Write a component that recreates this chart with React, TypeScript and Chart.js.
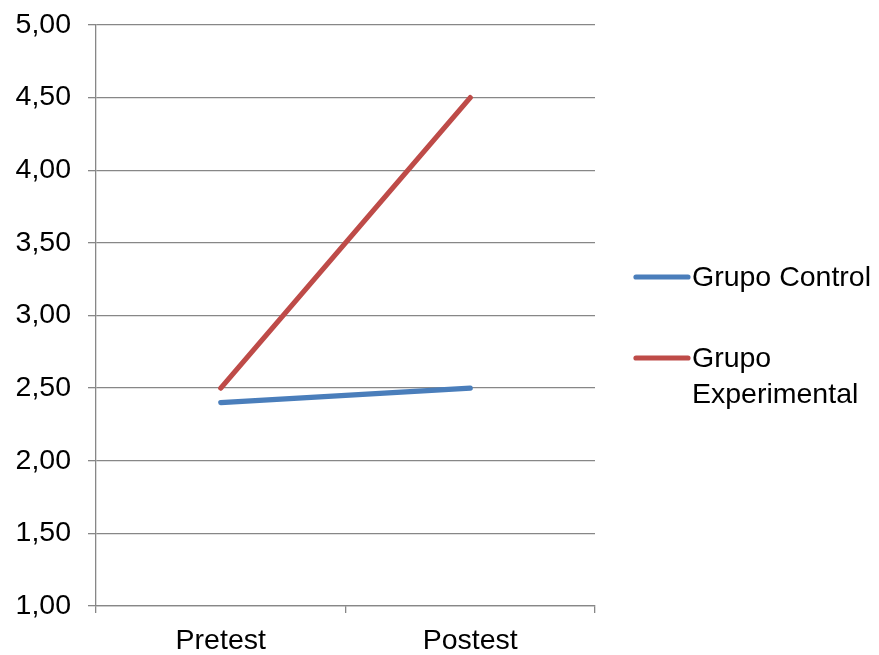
import React, { useEffect, useRef } from "react";
import { Chart, registerables } from "chart.js";

Chart.register(...registerables);

const categories = ["Pretest", "Postest"];
const controlValues = [2.4, 2.5];
const experimentalValues = [2.5, 4.5];
const seriesNames = ["Grupo Control", "Grupo Experimental"];
const legendLines = [["Grupo Control"], ["Grupo", "Experimental"]];
const yMin = 1;
const yMax = 5;
const yStep = 0.5;

const BLUE = "#4A7EBB";
const RED = "#BE4B48";
const GRID = "#878787";
const FONT = "'Liberation Sans', Arial, sans-serif";
const FS = 28.5;
const LW = 5.2;

const legendPlugin = {
  id: "sideLegend",
  afterDraw(chart: any) {
    const ctx = chart.ctx;
    const items = [
      { color: BLUE, y: 277, lines: legendLines[0] },
      { color: RED, y: 358, lines: legendLines[1] },
    ];
    ctx.save();
    ctx.font = `${FS}px ${FONT}`;
    ctx.textBaseline = "middle";
    ctx.fillStyle = "#000";
    items.forEach((it) => {
      ctx.strokeStyle = it.color;
      ctx.lineWidth = LW;
      ctx.lineCap = "round";
      ctx.beginPath();
      ctx.moveTo(636, it.y);
      ctx.lineTo(688, it.y);
      ctx.stroke();
      it.lines.forEach((t, i) => {
        ctx.fillText(t, 692, it.y + 1 + i * 36);
      });
    });
    ctx.restore();
  },
};

export default function App() {
  const ref = useRef<HTMLCanvasElement>(null);
  useEffect(() => {
    if (!ref.current) return;
    const chart = new Chart(ref.current, {
      type: "line",
      data: {
        labels: categories,
        datasets: [
          {
            label: seriesNames[0],
            data: controlValues,
            borderColor: BLUE,
            backgroundColor: BLUE,
            borderWidth: LW,
            pointRadius: 0,
            borderCapStyle: "round",
            tension: 0,
          },
          {
            label: seriesNames[1],
            data: experimentalValues,
            borderColor: RED,
            backgroundColor: RED,
            borderWidth: LW,
            pointRadius: 0,
            borderCapStyle: "round",
            tension: 0,
          },
        ],
      },
      options: {
        responsive: false,
        animation: false,
        layout: { padding: { left: 0, top: 25, right: 284, bottom: 0 } },
        plugins: {
          legend: { display: false },
          tooltip: { enabled: false },
        },
        scales: {
          x: {
            offset: true,
            grid: {
              offset: true,
              drawOnChartArea: false,
              drawTicks: true,
              tickLength: 7,
              color: GRID,
              lineWidth: 1.3,
            },
            border: { display: true, color: GRID, width: 1.3 },
            ticks: {
              color: "#000",
              font: { family: FONT, size: FS },
              padding: 11,
            },
            afterFit: (s: any) => {
              s.height = 49;
              s.paddingLeft = 0;
              s.paddingRight = 0;
            },
          },
          y: {
            min: yMin,
            max: yMax,
            grid: {
              color: GRID,
              lineWidth: 1.3,
              tickLength: 8,
            },
            border: { display: true, color: GRID, width: 1.3 },
            ticks: {
              stepSize: yStep,
              color: "#000",
              font: { family: FONT, size: FS },
              padding: 17,
              callback: (v: any) => Number(v).toFixed(2).replace(".", ","),
            },
            afterFit: (s: any) => {
              s.width = 96;
              s.paddingTop = 0;
              s.paddingBottom = 0;
            },
          },
        },
      },
      plugins: [legendPlugin],
    });
    return () => chart.destroy();
  }, []);
  return (
    <div style={{ position: "absolute", left: 0, top: 0, width: 879, height: 655, background: "#fff" }}>
      <canvas ref={ref} width={879} height={655} style={{ display: "block" }} />
    </div>
  );
}
